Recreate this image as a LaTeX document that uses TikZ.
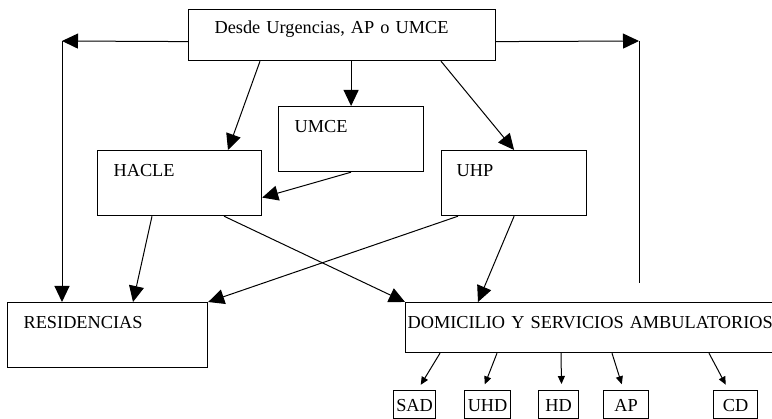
\documentclass[tikz,border=0pt]{standalone}
\usepackage{fontspec}
\setmainfont{Liberation Serif}
\usetikzlibrary{arrows.meta}

\begin{document}
\begin{tikzpicture}[x=1pt,y=-1pt,font=\fontsize{18.3pt}{22pt}\selectfont,line width=1pt,
    caja/.style={draw,line width=1.2pt,anchor=north west,inner ysep=0pt,align=left,text height=26pt},
    chica/.style={draw,line width=1.2pt,anchor=north west,inner sep=0pt,minimum height=28pt,text height=13pt,text depth=0pt},
    grande/.style={-{Triangle[length=16pt,width=15pt]}},
    flecha/.style={-{Triangle[length=8pt,width=7pt]},shorten >=6pt}]
    \useasboundingbox (0,0) rectangle (772,419);

    \node[caja,text height=24pt,inner xsep=26pt,text width=255pt,text depth=27pt] (desde) at (188,9) {Desde Urgencias, AP o UMCE};
    \node[caja,inner xsep=16pt,text width=113pt,text depth=39pt] (umce)  at (278,106) {UMCE};
    \node[caja,inner xsep=16pt,text width=132pt,text depth=39pt] (hacle) at (97,150)  {HACLE};
    \node[caja,inner xsep=15pt,text width=115pt,text depth=39pt] (uhp)   at (441,150) {UHP};
    \node[caja,inner xsep=16pt,text width=168pt,text depth=39pt] (resid) at (7,302)   {RESIDENCIAS};
    \node[caja,inner xsep=2pt,text width=368pt,text depth=24pt]  (domic) at (405,302) {DOMICILIO Y SERVICIOS AMBULATORIOS};

    \node[chica,minimum width=42pt] (sad) at (393,390) {SAD};
    \node[chica,minimum width=46pt] (uhd) at (464,390) {UHD};
    \node[chica,minimum width=40pt] (hd)  at (538,390) {HD};
    \node[chica,minimum width=45pt] (ap)  at (603,390) {AP};
    \node[chica,minimum width=44pt] (cd)  at (713,390) {CD};

    \coordinate (izq)    at (62,41);
    \coordinate (der)    at (639,41);
    \coordinate (derfin) at (639,283);

    \draw[grande] ([yshift=-6.5pt]desde.west) -- (izq);
    \draw[grande] (izq) -- (izq |- resid.north);
    \draw[grande] ([yshift=-6.5pt]desde.east) -- (der);
    \draw (der) -- (derfin);
    \draw[grande] (desde.south -| umce.north) -- (umce.north);
    \draw[grande] ([xshift=72pt]desde.south west) -- ([xshift=131pt]hacle.north west);
    \draw[grande] ([xshift=253pt]desde.south west) -- (uhp.north);
    \draw[grande] (umce.south) -- ([yshift=-14.5pt]hacle.east);
    \draw[grande] ([xshift=55pt]hacle.south west) -- ([xshift=126pt]resid.north west);
    \draw[grande] ([xshift=127pt]hacle.south west) -- (domic.north west);
    \draw[grande] ([xshift=17pt]uhp.south west) -- (resid.north east);
    \draw[grande] (uhp.south) -- ([xshift=73pt]domic.north west);

    \draw[flecha] ([xshift=35pt]domic.south west)  -- ([xshift=3pt]sad.north);
    \draw[flecha] ([xshift=92pt]domic.south west)  -- ([xshift=-5pt]uhd.north);
    \draw[flecha] ([xshift=156pt]domic.south west) -- ([xshift=3pt]hd.north);
    \draw[flecha] ([xshift=207pt]domic.south west) -- ([xshift=-2.5pt]ap.north);
    \draw[flecha] ([xshift=304pt]domic.south west) -- ([xshift=-7pt]cd.north);
\end{tikzpicture}
\end{document}
